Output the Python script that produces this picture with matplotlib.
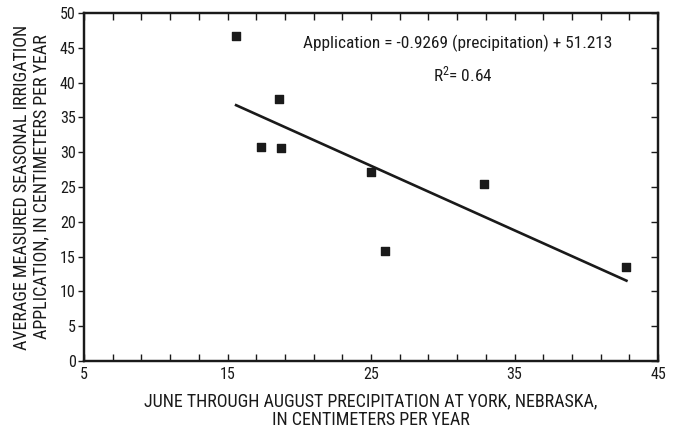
import numpy as np
import matplotlib
matplotlib.use("Agg")
import matplotlib.pyplot as plt
from matplotlib import font_manager

# Datos
precipitacion = [15.6, 17.3, 18.6, 18.75, 25.0, 26.0, 32.9, 42.8]
aplicacion = [46.7, 30.8, 37.7, 30.6, 27.2, 15.85, 25.5, 13.55]
pendiente = -0.9269
intercepto = 51.213
xticks = [5, 15, 25, 35, 45]
yticks = [0, 5, 10, 15, 20, 25, 30, 35, 40, 45, 50]

nombres = {f.name for f in font_manager.fontManager.ttflist}
fam = 'Liberation Sans'
for n in ['Roboto Condensed', 'Archivo Narrow', 'PT Sans Narrow', 'Liberation Sans Narrow']:
    if n in nombres:
        fam = n
        break
plt.rcParams['font.family'] = [fam, 'DejaVu Sans']
plt.rcParams['mathtext.fontset'] = 'custom'
plt.rcParams['mathtext.rm'] = fam
plt.rcParams['mathtext.it'] = fam
condensada = fam != 'Liberation Sans'
t_nota = 12.4 if condensada else 10.5
t_eje = 13 if condensada else 11
t_tick = 11.5 if condensada else 10.5
negro = '#1a1a1a'

fig = plt.figure(figsize=(6.78, 4.33), dpi=100)
ax = fig.add_axes([0.1239, 0.1663, 0.8466, 0.8037])

ax.scatter(precipitacion, aplicacion, marker='s', s=30, color=negro, zorder=3)

xl = np.array([min(precipitacion), max(precipitacion)])
ax.plot(xl, pendiente * xl + intercepto, color=negro, lw=1.9)

ax.set_xlim(5, 45)
ax.set_ylim(0, 50)
ax.set_xticks(xticks)
ax.set_xticks(np.arange(5, 46, 2), minor=True)
ax.set_yticks(yticks)

ax.tick_params(axis='x', which='both', direction='in', top=True, bottom=True,
               length=5, width=1, labelsize=t_tick, pad=4, colors=negro)
ax.tick_params(axis='y', which='major', direction='out', left=True, right=False,
               length=4, width=1, labelsize=t_tick, pad=2, colors=negro)

ax2 = ax.twinx()
ax2.set_ylim(0, 50)
ax2.set_yticks(yticks)
ax2.tick_params(axis='y', direction='in', length=5, width=1, labelright=False, colors=negro)

for a in (ax, ax2):
    for s in a.spines.values():
        s.set_linewidth(1.6)
        s.set_color(negro)

ax.text(20.26, 45.7, 'Application = -0.9269 (precipitation) + 51.213',
        fontsize=t_nota, va='center', ha='left', color=negro)
ax.text(29.3, 41.1, r'R$^{2}$= 0.64', fontsize=t_nota, va='center', ha='left', color=negro)

ax.set_xlabel('JUNE THROUGH AUGUST PRECIPITATION AT YORK, NEBRASKA,\nIN CENTIMETERS PER YEAR',
              fontsize=t_eje, color=negro, labelpad=8, linespacing=1.05)
ax.set_ylabel('AVERAGE MEASURED SEASONAL IRRIGATION\nAPPLICATION, IN CENTIMETERS PER YEAR',
              fontsize=t_eje, color=negro, labelpad=7, linespacing=1.1)

fig.savefig('out.png', dpi=100)
